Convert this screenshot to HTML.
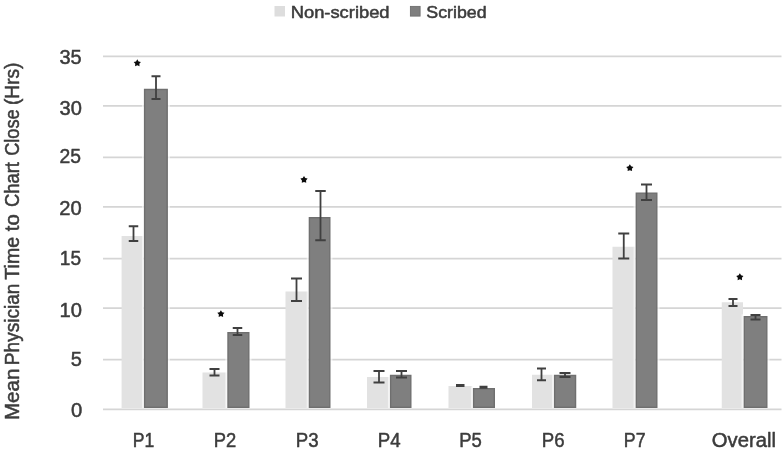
<!DOCTYPE html>
<html lang="en"><head><meta charset="utf-8"><title>Mean Physician Time to Chart Close</title>
<style>
html,body{margin:0;padding:0;background:#fff;}
body{width:784px;height:452px;overflow:hidden;}
svg{display:block;font-family:"Liberation Sans",Arial,sans-serif;}
text{stroke-width:0.5;stroke-linejoin:round;}
</style></head><body>
<svg width="784" height="452" viewBox="0 0 784 452">
<rect width="784" height="452" fill="#fff"/>
<g stroke="#d5d5d5" stroke-width="1.75">
<line x1="103" y1="56.25" x2="781.5" y2="56.25"/>
<line x1="103" y1="105.75" x2="781.5" y2="105.75"/>
<line x1="103" y1="157.25" x2="781.5" y2="157.25"/>
<line x1="103" y1="206.75" x2="781.5" y2="206.75"/>
<line x1="103" y1="258.50" x2="781.5" y2="258.50"/>
<line x1="103" y1="308.00" x2="781.5" y2="308.00"/>
<line x1="103" y1="359.60" x2="781.5" y2="359.60"/>
<line x1="103" y1="409.25" x2="781.5" y2="409.25"/>
</g>
<g>
<rect x="121.60" y="236.00" width="21.60" height="172.00" fill="#e2e2e2"/>
<rect x="202.50" y="372.50" width="24.10" height="35.50" fill="#e2e2e2"/>
<rect x="285.50" y="291.50" width="22.50" height="116.50" fill="#e2e2e2"/>
<rect x="367.00" y="377.00" width="22.20" height="31.00" fill="#e2e2e2"/>
<rect x="448.50" y="386.00" width="23.70" height="22.00" fill="#e2e2e2"/>
<rect x="532.00" y="374.75" width="21.20" height="33.25" fill="#e2e2e2"/>
<rect x="612.50" y="246.75" width="22.50" height="161.25" fill="#e2e2e2"/>
<rect x="721.75" y="302.25" width="21.25" height="105.75" fill="#e2e2e2"/>
<rect x="141.90" y="87.15" width="28.00" height="320.85" fill="#fff" fill-opacity="0.6"/>
<rect x="144.60" y="89.45" width="22.60" height="317.85" fill="#7f7f7f" stroke="#6f6f6f" stroke-width="1.4"/>
<rect x="225.30" y="330.40" width="26.20" height="77.60" fill="#fff" fill-opacity="0.6"/>
<rect x="228.00" y="332.70" width="20.80" height="74.60" fill="#7f7f7f" stroke="#6f6f6f" stroke-width="1.4"/>
<rect x="306.70" y="215.40" width="25.80" height="192.60" fill="#fff" fill-opacity="0.6"/>
<rect x="309.40" y="217.70" width="20.40" height="189.60" fill="#7f7f7f" stroke="#6f6f6f" stroke-width="1.4"/>
<rect x="387.90" y="373.15" width="25.60" height="34.85" fill="#fff" fill-opacity="0.6"/>
<rect x="390.60" y="375.45" width="20.20" height="31.85" fill="#7f7f7f" stroke="#6f6f6f" stroke-width="1.4"/>
<rect x="470.90" y="386.40" width="26.10" height="21.60" fill="#fff" fill-opacity="0.6"/>
<rect x="473.60" y="388.70" width="20.70" height="18.60" fill="#7f7f7f" stroke="#6f6f6f" stroke-width="1.4"/>
<rect x="551.90" y="373.15" width="26.35" height="34.85" fill="#fff" fill-opacity="0.6"/>
<rect x="554.60" y="375.45" width="20.95" height="31.85" fill="#7f7f7f" stroke="#6f6f6f" stroke-width="1.4"/>
<rect x="633.60" y="190.90" width="25.90" height="217.10" fill="#fff" fill-opacity="0.6"/>
<rect x="636.30" y="193.20" width="20.50" height="214.10" fill="#7f7f7f" stroke="#6f6f6f" stroke-width="1.4"/>
<rect x="741.60" y="314.40" width="27.90" height="93.60" fill="#fff" fill-opacity="0.6"/>
<rect x="744.30" y="316.70" width="22.50" height="90.60" fill="#7f7f7f" stroke="#6f6f6f" stroke-width="1.4"/>
</g>
<g stroke="#404040" stroke-width="1.8" fill="none">
<path d="M128.75 226.25H138.25M128.75 241.00H138.25M133.50 226.25V241.00"/>
<path d="M151.50 76.25H160.50M151.50 99.00H160.50M156.00 76.25V99.00"/>
<path d="M209.50 369.00H219.50M209.50 375.50H219.50M214.50 369.00V375.50"/>
<path d="M232.75 328.00H242.25M232.75 335.00H242.25M237.50 328.00V335.00"/>
<path d="M291.00 278.50H302.00M291.00 301.00H302.00M296.50 278.50V301.00"/>
<path d="M315.25 191.00H325.75M315.25 240.25H325.75M320.50 191.00V240.25"/>
<path d="M373.50 371.00H384.50M373.50 382.50H384.50M379.00 371.00V382.50"/>
<path d="M396.00 371.00H407.00M396.00 377.50H407.00M401.50 371.00V377.50"/>
<path d="M456.00 385.00H464.50M456.00 386.00H464.50M460.25 385.00V386.00"/>
<path d="M479.50 386.75H487.50M479.50 387.75H487.50M483.50 386.75V387.75"/>
<path d="M537.00 368.50H546.00M537.00 380.25H546.00M541.50 368.50V380.25"/>
<path d="M559.50 373.00H570.50M559.50 377.00H570.50M565.00 373.00V377.00"/>
<path d="M618.25 233.50H629.25M618.25 258.50H629.25M623.75 233.50V258.50"/>
<path d="M641.00 184.50H652.00M641.00 200.00H652.00M646.50 184.50V200.00"/>
<path d="M728.50 299.00H737.50M728.50 306.00H737.50M733.00 299.00V306.00"/>
<path d="M750.50 315.00H760.50M750.50 319.50H760.50M755.50 315.00V319.50"/>
</g>
<g fill="#0c0c0c">
<polygon points="137.30,59.35 138.56,61.41 140.91,61.98 139.34,63.81 139.53,66.22 137.30,65.30 135.07,66.22 135.26,63.81 133.69,61.98 136.04,61.41"/>
<polygon points="220.90,310.15 222.16,312.21 224.51,312.78 222.94,314.61 223.13,317.02 220.90,316.10 218.67,317.02 218.86,314.61 217.29,312.78 219.64,312.21"/>
<polygon points="304.00,175.95 305.26,178.01 307.61,178.58 306.04,180.41 306.23,182.82 304.00,181.90 301.77,182.82 301.96,180.41 300.39,178.58 302.74,178.01"/>
<polygon points="629.85,164.25 631.11,166.31 633.46,166.88 631.89,168.71 632.08,171.12 629.85,170.20 627.62,171.12 627.81,168.71 626.24,166.88 628.59,166.31"/>
<polygon points="739.85,273.30 741.11,275.36 743.46,275.93 741.89,277.76 742.08,280.17 739.85,279.25 737.62,280.17 737.81,277.76 736.24,275.93 738.59,275.36"/>
</g>
<g fill="#3c3c3c" stroke="#3c3c3c" font-size="20">
<text x="59.50" y="64.35" textLength="22.24" lengthAdjust="spacingAndGlyphs">35</text>
<text x="59.50" y="114.60" textLength="22.31" lengthAdjust="spacingAndGlyphs">30</text>
<text x="59.60" y="163.35" textLength="21.47" lengthAdjust="spacingAndGlyphs">25</text>
<text x="59.38" y="214.85" textLength="22.40" lengthAdjust="spacingAndGlyphs">20</text>
<text x="59.76" y="265.35" textLength="21.26" lengthAdjust="spacingAndGlyphs">15</text>
<text x="59.48" y="316.60" textLength="22.45" lengthAdjust="spacingAndGlyphs">10</text>
<text x="70.78" y="365.60" textLength="11.11" lengthAdjust="spacingAndGlyphs">5</text>
<text x="70.97" y="416.60" textLength="11.27" lengthAdjust="spacingAndGlyphs">0</text>
</g>
<g fill="#3c3c3c" stroke="#3c3c3c" font-size="19.5">
<text x="132.66" y="447" textLength="21.54" lengthAdjust="spacingAndGlyphs">P1</text>
<text x="213.80" y="447" textLength="22.43" lengthAdjust="spacingAndGlyphs">P2</text>
<text x="295.80" y="447" textLength="22.78" lengthAdjust="spacingAndGlyphs">P3</text>
<text x="377.80" y="447" textLength="22.80" lengthAdjust="spacingAndGlyphs">P4</text>
<text x="459.29" y="447" textLength="22.58" lengthAdjust="spacingAndGlyphs">P5</text>
<text x="541.80" y="447" textLength="22.77" lengthAdjust="spacingAndGlyphs">P6</text>
<text x="623.80" y="447" textLength="21.71" lengthAdjust="spacingAndGlyphs">P7</text>
<text x="711.85" y="447" textLength="64.16" lengthAdjust="spacingAndGlyphs">Overall</text>
</g>
<g transform="translate(19.3 0) rotate(-90)" fill="#3c3c3c" stroke="#3c3c3c" font-size="19.5">
<text x="-420.09" y="0" textLength="51.51" lengthAdjust="spacingAndGlyphs">Mean</text>
<text x="-365.20" y="0" textLength="81.64" lengthAdjust="spacingAndGlyphs">Physician</text>
<text x="-279.65" y="0" textLength="42.88" lengthAdjust="spacingAndGlyphs">Time</text>
<text x="-231.24" y="0" textLength="16.96" lengthAdjust="spacingAndGlyphs">to</text>
<text x="-207.10" y="0" textLength="45.05" lengthAdjust="spacingAndGlyphs">Chart</text>
<text x="-155.83" y="0" textLength="46.44" lengthAdjust="spacingAndGlyphs">Close</text>
<text x="-105.00" y="0" textLength="42.40" lengthAdjust="spacingAndGlyphs">(Hrs)</text>
</g>
<rect x="274.5" y="6" width="10.5" height="10.5" fill="#dddddd"/>
<rect x="410.4" y="6.4" width="9.7" height="9.7" fill="#7f7f7f" stroke="#6f6f6f" stroke-width="0.9"/>
<g fill="#3c3c3c" stroke="#3c3c3c" font-size="16" style="stroke-width:0.35">
<text x="290.69" y="18" textLength="98.89" lengthAdjust="spacingAndGlyphs">Non-scribed</text>
<text x="426.34" y="18" textLength="60.27" lengthAdjust="spacingAndGlyphs">Scribed</text>
</g>
</svg></body></html>
